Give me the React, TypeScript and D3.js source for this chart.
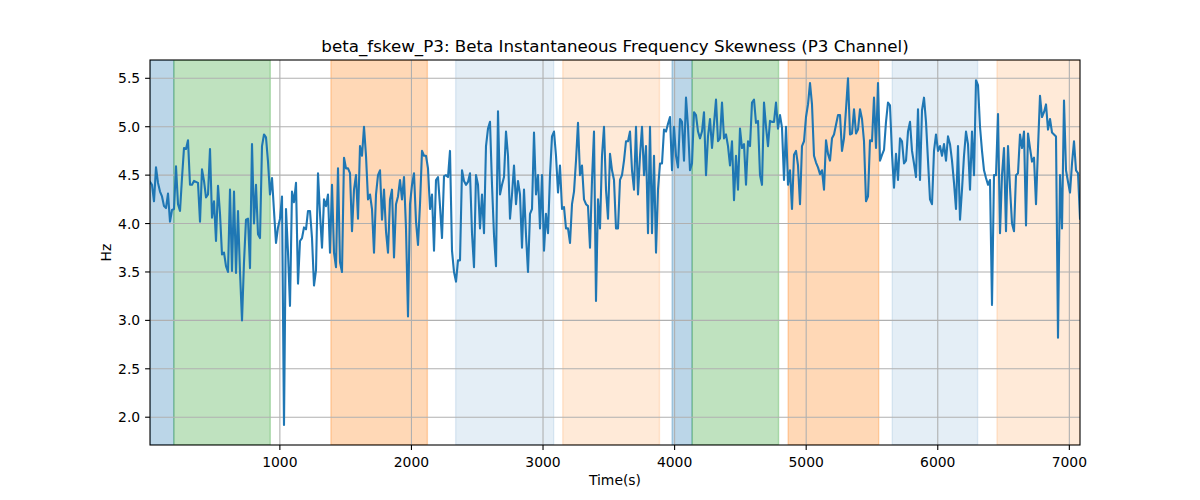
import { useEffect } from 'react';
import * as d3 from 'd3';

const title = 'beta_fskew_P3: Beta Instantaneous Frequency Skewness (P3 Channel)';

// sampling of the series (seconds)
const t0 = 13;
const dt = 15.2;

// Hz values, in time order
const skewPart1 = [
  4.43, 4.40, 4.23, 4.58, 4.42, 4.33, 4.28, 4.18, 4.16, 4.31,
  4.02, 4.14, 4.15, 4.59, 4.20, 4.13, 4.47, 4.78, 4.77, 4.86,
  4.40, 4.40, 4.44, 4.43, 4.42, 4.02, 4.56, 4.44, 4.27, 4.30,
  4.77, 4.06, 4.23, 3.82, 4.39, 4.10, 3.68, 3.70, 3.56, 3.50,
  4.35, 3.51, 4.33, 3.49, 4.13, 3.50, 3.00, 3.60, 4.04, 4.05,
  3.54, 4.82, 4.00, 4.40, 3.89, 3.85, 4.80, 4.92, 4.89, 4.64,
  4.30, 4.47, 4.13, 3.80, 3.96, 4.05, 4.28, 1.92, 4.15, 3.70,
  3.15, 4.33, 4.22,
];
const skewPart2 = [
  4.42, 3.38, 3.82, 3.85, 3.96, 3.94, 4.13, 4.13, 3.85, 3.36,
  3.52, 4.52, 4.10, 3.75, 4.25, 4.18, 4.30, 3.70, 4.40, 3.70,
  3.55, 4.57, 3.60, 3.50, 4.68, 4.57, 4.57, 4.52, 3.92, 4.35,
  4.50, 4.05, 4.80, 4.70, 5.00, 4.70, 4.25, 4.30, 4.15, 3.70,
  4.30, 4.50, 4.55, 4.04, 4.35, 3.92, 3.70, 4.25, 4.35, 3.65,
  4.20, 4.28, 4.45, 4.25, 4.48, 3.95, 3.04, 4.20, 4.40, 4.52,
  4.02, 3.78, 4.20, 4.75, 4.70, 4.70, 4.57, 4.15, 4.30, 3.72,
  4.45, 4.48, 4.18, 3.85, 4.49, 4.50, 4.48, 4.75, 3.72, 3.50,
];
const skewPart3 = [
  3.40, 3.62, 3.62, 4.55, 4.44, 4.40, 4.43, 4.52, 3.90, 3.55,
  4.50, 4.40, 3.95, 4.30, 3.90, 4.80, 4.98, 5.05, 4.40, 3.88,
  3.56, 5.16, 4.30, 4.40, 4.48, 4.95, 4.70, 4.05, 4.30, 4.60,
  4.20, 4.44, 4.30, 3.75, 4.35, 3.88, 3.50, 4.10, 4.15, 4.94,
  4.30, 4.50, 3.95, 4.50, 3.72, 4.10, 3.90, 4.50, 4.90, 4.95,
  4.70, 4.32, 4.60, 4.15, 4.17, 3.95, 3.95, 3.80, 4.20, 4.33,
  4.65, 5.04, 4.50, 4.60, 4.25, 4.20, 4.18, 3.75, 4.45, 4.95,
  3.20, 4.25, 3.95, 4.70, 5.00,
];
const skewPart4 = [
  4.35, 4.05, 4.72, 4.55, 4.45, 3.95, 3.95, 4.45, 4.50, 4.65,
  4.85, 4.85, 4.95, 4.55, 4.35, 5.00, 4.30, 4.70, 5.00, 4.50,
  4.80, 3.90, 5.00, 3.90, 4.70, 3.70, 4.35, 4.62, 4.62, 4.97,
  4.95, 5.03, 5.10, 4.55, 5.00, 4.70, 4.58, 5.08, 5.05, 4.65,
  5.30, 5.00, 4.55, 4.62, 5.15, 5.12, 4.95, 4.88, 4.95, 5.15,
  4.50, 4.90, 5.08, 4.78, 5.03, 5.28, 4.85, 4.88, 5.25, 4.88,
  4.92, 4.80, 4.60, 4.85, 4.24, 4.70, 4.35, 4.98, 4.78, 4.82,
  4.40, 4.85, 4.80, 5.25, 5.28,
];
const skewPart5 = [
  5.04, 5.06, 4.50, 4.40, 5.25, 5.00, 4.80, 5.06, 5.05, 5.05,
  5.25, 4.98, 5.12, 4.99, 4.45, 5.00, 4.40, 4.55, 4.15, 4.71,
  4.75, 4.60, 4.20, 4.80, 4.85, 5.10, 5.23, 5.45, 5.23, 4.70,
  4.63, 4.58, 4.51, 4.55, 4.35, 4.86, 4.72, 4.65, 4.88, 4.92,
  5.02, 5.12, 5.12, 4.75, 4.88, 5.18, 5.50, 4.92, 4.93, 5.18,
  4.93, 4.97, 5.18, 5.08, 4.85, 4.23, 4.28, 4.86, 4.85, 5.30,
  4.78, 5.45, 4.65, 4.71, 4.76, 5.05, 5.25, 5.22, 4.72, 4.37,
  4.72, 4.45, 4.88, 4.85, 4.62,
];
const skewPart6 = [
  4.65, 4.95, 5.05, 4.75, 4.62, 4.48, 5.18, 4.45, 5.17, 5.30,
  5.05, 4.65, 4.25, 4.20, 4.75, 4.92, 4.75, 4.80, 4.70, 4.82,
  4.65, 4.90, 4.82, 4.65, 4.42, 4.15, 4.80,
];
const skewPart7 = [
  4.04, 4.35, 4.70, 4.95, 4.82, 4.35, 4.95, 4.50, 5.48, 5.43,
  5.00, 4.75, 4.55, 4.47, 4.40, 4.45, 3.16, 4.50, 4.50, 5.13,
  3.90, 4.50, 4.78, 3.92, 4.80, 4.37, 4.00, 3.92, 4.50, 4.52,
  4.92, 4.78, 4.95, 3.98, 4.93, 4.78, 4.64, 4.68, 4.20, 4.78,
  5.32, 5.10, 5.15, 5.23, 4.97, 5.08, 4.94, 4.92, 4.90, 2.82,
  4.50, 3.95, 5.27, 4.55, 4.43, 4.32, 4.62, 4.85, 4.55, 4.52,
  4.05,
];

// shaded phases
const spanStart = [13, 194, 1388, 2336, 3150, 3981, 4133, 4863, 5654, 6450];
const spanEnd = [194, 927, 2121, 3081, 3885, 4133, 4790, 5551, 6303, 7081];
const spanKind = ['a', 'b', 'c', 'd', 'e', 'a', 'b', 'c', 'd', 'e'];

const xTicks = [1000, 2000, 3000, 4000, 5000, 6000, 7000];
const yTicks = [2.0, 2.5, 3.0, 3.5, 4.0, 4.5, 5.0, 5.5];

const spanStyle: Record<string, { color: string; alpha: number }> = {
  a: { color: '#1f77b4', alpha: 0.3 },
  b: { color: '#2ca02c', alpha: 0.3 },
  c: { color: '#ff7f0e', alpha: 0.3 },
  d: { color: '#1f77b4', alpha: 0.12 },
  e: { color: '#ff7f0e', alpha: 0.16 },
};

const W = 1200;
const H = 500;
const plot = { left: 150, right: 1080, top: 60, bottom: 445 };
const font = '"DejaVu Sans", Verdana, sans-serif';

export default function App() {
  useEffect(() => {
    document.body.style.margin = '0';
  }, []);

  const skew = [
    ...skewPart1, ...skewPart2, ...skewPart3, ...skewPart4,
    ...skewPart5, ...skewPart6, ...skewPart7,
  ];
  const series = skew.map((v, i) => ({ t: t0 + i * dt, v }));

  const x = d3
    .scaleLinear()
    .domain(d3.extent(series, (d) => d.t) as [number, number])
    .range([plot.left, plot.right]);
  const y = d3.scaleLinear().domain([1.713, 5.689]).range([plot.bottom, plot.top]);

  const line = d3
    .line<{ t: number; v: number }>()
    .x((d) => x(d.t))
    .y((d) => y(d.v));

  const tickLen = 4.9;
  const fmtY = d3.format('.1f');

  return (
    <svg width={W} height={H} style={{ display: 'block', fontFamily: font }}>
      <rect width={W} height={H} fill="#fff" />
      <defs>
        <clipPath id="plotClip">
          <rect x={plot.left} y={plot.top} width={plot.right - plot.left} height={plot.bottom - plot.top} />
        </clipPath>
      </defs>

      {/* phase spans */}
      <g clipPath="url(#plotClip)">
        {spanStart.map((s, i) => {
          const st = spanStyle[spanKind[i]];
          return (
            <rect
              key={i}
              x={x(s)}
              y={plot.top}
              width={x(spanEnd[i]) - x(s)}
              height={plot.bottom - plot.top}
              fill={st.color}
              fillOpacity={st.alpha}
              stroke={st.color}
              strokeOpacity={st.alpha}
              strokeWidth={1.4}
            />
          );
        })}
      </g>

      {/* grid */}
      <g stroke="#b0b0b0" strokeWidth={1.1}>
        {xTicks.map((t) => (
          <line key={t} x1={x(t)} x2={x(t)} y1={plot.top} y2={plot.bottom} />
        ))}
        {yTicks.map((t) => (
          <line key={t} x1={plot.left} x2={plot.right} y1={y(t)} y2={y(t)} />
        ))}
      </g>

      {/* series */}
      <path
        d={line(series) ?? ''}
        fill="none"
        stroke="#1f77b4"
        strokeWidth={2.1}
        strokeLinejoin="round"
        strokeLinecap="square"
        clipPath="url(#plotClip)"
      />

      {/* frame */}
      <rect
        x={plot.left}
        y={plot.top}
        width={plot.right - plot.left}
        height={plot.bottom - plot.top}
        fill="none"
        stroke="#000"
        strokeWidth={1.1}
      />

      {/* x axis */}
      <g fontSize={13.9} fill="#000">
        {xTicks.map((t) => (
          <g key={t}>
            <line x1={x(t)} x2={x(t)} y1={plot.bottom} y2={plot.bottom + tickLen} stroke="#000" strokeWidth={1.1} />
            <text x={x(t)} y={466.7} textAnchor="middle">
              {t}
            </text>
          </g>
        ))}
        <text x={(plot.left + plot.right) / 2} y={485} textAnchor="middle">
          Time(s)
        </text>
      </g>

      {/* y axis */}
      <g fontSize={13.9} fill="#000">
        {yTicks.map((t) => (
          <g key={t}>
            <line x1={plot.left - tickLen} x2={plot.left} y1={y(t)} y2={y(t)} stroke="#000" strokeWidth={1.1} />
            <text x={plot.left - 2 * tickLen} y={y(t)} textAnchor="end" dy="0.36em">
              {fmtY(t)}
            </text>
          </g>
        ))}
        <text
          transform={`translate(111, ${(plot.top + plot.bottom) / 2}) rotate(-90)`}
          textAnchor="middle"
        >
          Hz
        </text>
      </g>

      <text x={(plot.left + plot.right) / 2} y={52} textAnchor="middle" fontSize={16.7} fill="#000">
        {title}
      </text>
    </svg>
  );
}
